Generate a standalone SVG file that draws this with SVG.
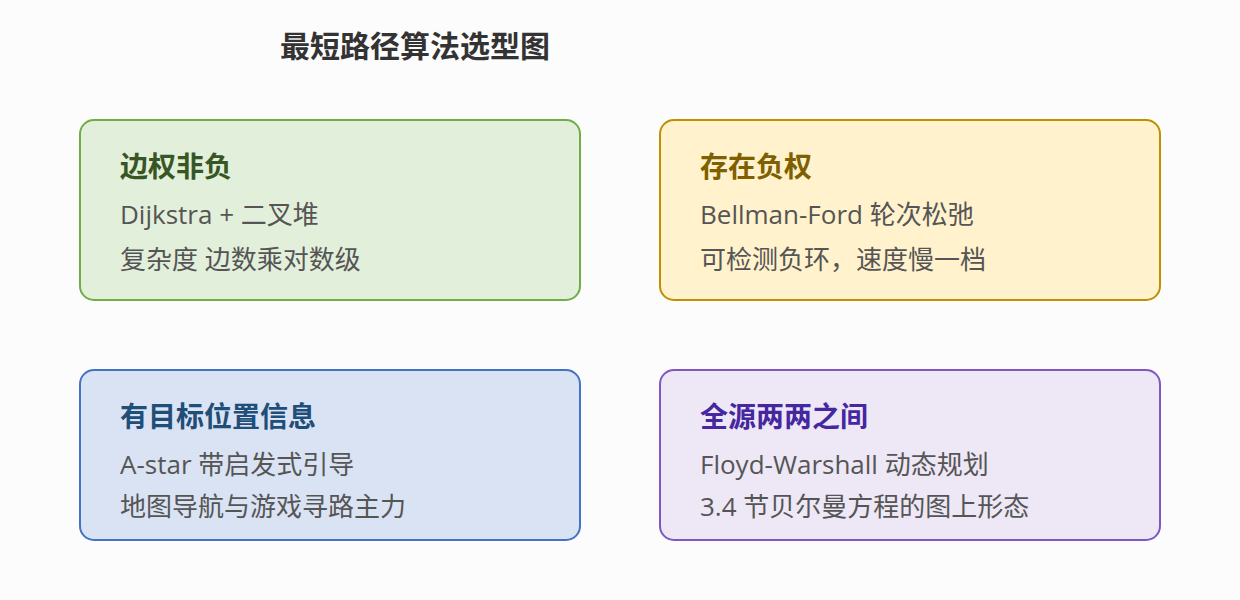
<svg xmlns="http://www.w3.org/2000/svg" width="1240" height="600" viewBox="0 0 1240 600">
<style>
text{font-family:"Open Sans","Noto Sans CJK SC",sans-serif}
.title{font-size:30px;font-weight:bold;fill:#333}
.h{font-size:28px;font-weight:bold}
.b{font-size:26px;fill:#555}
.card{stroke-width:2}
</style>
<rect width="1240" height="600" fill="#fcfcfc"/>
<text class="title" x="415" y="57" text-anchor="middle">最短路径算法选型图</text>
<g id="connectors"></g>
<g id="node-nonneg">
<rect class="card" x="80" y="120" width="500" height="180" rx="14" fill="#e2efda" stroke="#70ad47"/>
<text class="h" x="120" y="177" fill="#375623">边权非负</text>
<text class="b" x="120" y="224">Dijkstra + 二叉堆</text>
<text class="b" x="120" y="269">复杂度 边数乘对数级</text>
</g>
<g id="node-neg">
<rect class="card" x="660" y="120" width="500" height="180" rx="14" fill="#fff2cc" stroke="#bf9000"/>
<text class="h" x="700" y="177" fill="#7f6000">存在负权</text>
<text class="b" x="700" y="224">Bellman-Ford 轮次松弛</text>
<text class="b" x="700" y="269">可检测负环，速度慢一档</text>
</g>
<g id="node-astar">
<rect class="card" x="80" y="370" width="500" height="170" rx="14" fill="#dae3f3" stroke="#4472c4"/>
<text class="h" x="120" y="427" fill="#1f4e79">有目标位置信息</text>
<text class="b" x="120" y="474">A-star 带启发式引导</text>
<text class="b" x="120" y="516">地图导航与游戏寻路主力</text>
</g>
<g id="node-allpairs">
<rect class="card" x="660" y="370" width="500" height="170" rx="14" fill="#ede7f6" stroke="#7e57c2"/>
<text class="h" x="700" y="427" fill="#4527a0">全源两两之间</text>
<text class="b" x="700" y="474">Floyd-Warshall 动态规划</text>
<text class="b" x="700" y="516">3.4 节贝尔曼方程的图上形态</text>
</g>
</svg>
